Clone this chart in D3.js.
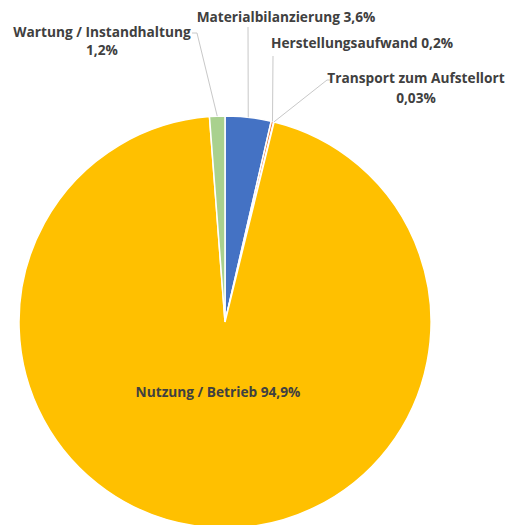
<!DOCTYPE html>
<html lang="de">
<head>
    <meta charset="UTF-8">
    <title>Anteile Lebenszyklus</title>
    <script src="https://d3js.org/d3.v7.min.js"></script>
</head>
<style>
    body { margin: 0; padding: 0; background: #fff; }
    svg { display: block; }
    .slice { stroke: #fff; stroke-width: 1.5px; }
    .leader { fill: none; stroke: #c8c8c8; stroke-width: 1px; }
    .label { font-family: "Open Sans", sans-serif; font-weight: 700; font-size: 13.7px; fill: #404040; }
</style>
<body>
<div class="chart"></div>
<script>
  /** data: shares in percent, clockwise from 12 o'clock */
  var categories = ['Materialbilanzierung', 'Herstellungsaufwand', 'Transport zum Aufstellort', 'Nutzung / Betrieb', 'Wartung / Instandhaltung'];
  var shares = [3.6, 0.2, 0.03, 94.9, 1.2];
  var shareLabels = ['3,6%', '0,2%', '0,03%', '94,9%', '1,2%'];
  var colors = ['#4472c4', '#ed7d31', '#a5a5a5', '#ffc000', '#a9d18e'];

  var width = 509, height = 525;
  var cx = 225, cy = 322, radius = 206;

  /** label layout (not data): text lines, anchor point, line gap, leader elbow */
  var labelLayout = {
    'Materialbilanzierung':      { lines: ['Materialbilanzierung 3,6%'], x: 286, y: 22, elbow: [248, 27] },
    'Herstellungsaufwand':       { lines: ['Herstellungsaufwand 0,2%'], x: 362, y: 48, elbow: [273, 56] },
    'Transport zum Aufstellort': { lines: ['Transport zum Aufstellort', '0,03%'], x: 416, y: 83, gap: 20, elbow: [327, 80], elbowStart: [332, 80] },
    'Nutzung / Betrieb':         { lines: ['Nutzung / Betrieb 94,9%'], x: 218, y: 397, inside: true },
    'Wartung / Instandhaltung':  { lines: ['Wartung / Instandhaltung', '1,2%'], x: 102, y: 37, gap: 18, elbow: [197, 33], elbowStart: [192, 33] }
  };

  var svg = d3.select('.chart').append('svg')
    .attr('width', width)
    .attr('height', height);

  var rows = categories.map(function (c, i) {
    return { name: c, value: shares[i], label: shareLabels[i], color: colors[i] };
  });

  var pie = d3.pie()
    .sort(null)
    .value(function (d) { return d.value; });

  var arc = d3.arc().innerRadius(0).outerRadius(radius);
  var edgeArc = d3.arc().innerRadius(radius).outerRadius(radius);

  var arcs = pie(rows);

  var g = svg.append('g').attr('transform', 'translate(' + cx + ',' + cy + ')');

  g.selectAll('path.slice')
    .data(arcs)
    .enter().append('path')
    .classed('slice', true)
    .attr('d', arc)
    .attr('fill', function (d) { return d.data.color; });

  /** leader lines from the pie edge to the label */
  var outside = arcs.filter(function (d) { return !labelLayout[d.data.name].inside; });

  svg.append('g').selectAll('polyline')
    .data(outside)
    .enter().append('polyline')
    .classed('leader', true)
    .attr('points', function (d) {
      var L = labelLayout[d.data.name];
      var p = edgeArc.centroid(d);
      var pts = [[cx + p[0], cy + p[1]], L.elbow];
      if (L.elbowStart) pts.push(L.elbowStart);
      return pts.map(function (q) { return q.join(','); }).join(' ');
    });

  /** labels */
  var labels = svg.append('g').selectAll('text')
    .data(arcs)
    .enter().append('text')
    .classed('label', true)
    .attr('text-anchor', 'middle')
    .attr('x', function (d) { return labelLayout[d.data.name].x; })
    .attr('y', function (d) { return labelLayout[d.data.name].y; });

  labels.selectAll('tspan')
    .data(function (d) {
      var L = labelLayout[d.data.name];
      return L.lines.map(function (t) { return { t: t, x: L.x, gap: L.gap || 18 }; });
    })
    .enter().append('tspan')
    .attr('x', function (d) { return d.x; })
    .attr('dy', function (d, i) { return i === 0 ? 0 : d.gap; })
    .text(function (d) { return d.t; });
</script>
</body>
</html>
